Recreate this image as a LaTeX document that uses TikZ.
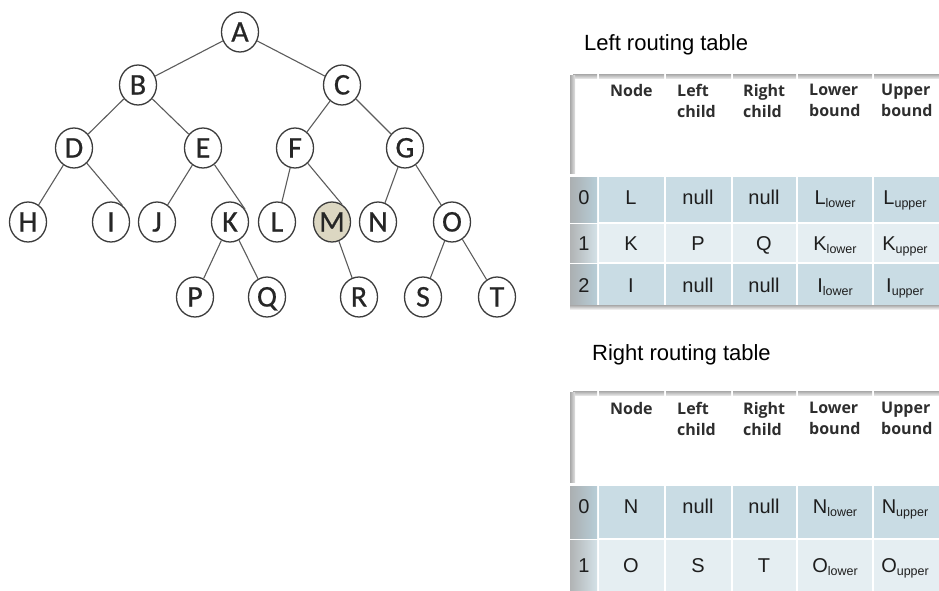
\documentclass[tikz,border=0pt]{standalone}
\usepackage{fontspec}
\setmainfont{Liberation Sans}
\newfontfamily\treefont{Carlito}[FakeBold=0.6]
\newfontfamily\headfont{Open Sans}
\usetikzlibrary{shapes.geometric}

\definecolor{rowdark}{HTML}{C9DCE4}
\definecolor{rowlight}{HTML}{E5EEF2}
\definecolor{idxdark}{HTML}{B7CDD7}
\definecolor{idxlight}{HTML}{D3E1E7}
\definecolor{edgegray}{HTML}{5C5C5C}
\definecolor{ringgray}{HTML}{3C3C3C}
\definecolor{mfill}{HTML}{DCD7C2}
\definecolor{railgray}{HTML}{A8A8A8}
\definecolor{railpale}{HTML}{E2E2E2}
\definecolor{headtext}{HTML}{2E2E2E}
\definecolor{celltext}{HTML}{1E1E1E}

% bound value: base letter with a small lowered label
\newcommand{\bnd}[2]{#1\raisebox{-3.5pt}{\fontsize{12.5}{12.5}\selectfont #2}}

% #1 header top, #2 header bottom
\newcommand{\tableframe}[2]{%
  \foreach \xa/\xb in {572/598,598/665,665/732,732/797,797/873,873/945}{
    \shade[top color=railgray, bottom color=railpale]
      (\xa+1,#1-1) rectangle (\xb-1,#1+3);
  }
  \shade[left color=railgray, right color=railpale]
    (570,#1) rectangle (575,#2);
}
% #1 top, #2 bottom, #3 cell fill, #4 index fill
\newcommand{\tablerow}[4]{%
  \shade[left color=railgray!80!#4, right color=#4]
    (570,#1) rectangle (597,#2);
  \foreach \xa/\xb in {598/665,665/732,732/797,797/873,873/945}{
    \fill[#3] (\xa+1,#1) rectangle (\xb-1,#2);
  }
}

\begin{document}
\begin{tikzpicture}[x=1pt,y=-1pt,
  vertex/.style={ellipse, draw=ringgray, line width=1.3pt, fill=white,
    minimum width=37pt, minimum height=40pt, inner sep=0pt,
    text height=19pt, text depth=0pt, text=black!85,
    font=\treefont\fontsize{30}{30}\selectfont},
  marked/.style={vertex, fill=mfill},
  branch/.style={draw=edgegray, line width=1.1pt},
  title/.style={anchor=base west, inner sep=0pt,
    font=\fontsize{22}{22}\selectfont},
  headcell/.style={anchor=north west, inner sep=0pt, align=left,
    text=headtext, font=\headfont\bfseries\fontsize{16}{21}\selectfont},
  cell/.style={anchor=base, inner sep=0pt, text=celltext,
    font=\fontsize{20}{20}\selectfont}]

\useasboundingbox (0,0) rectangle (939,590);

% ---------------- tree ----------------
\node[vertex] (A) at (240,32) {A};
\node[vertex] (B) at (138,85) {B};
\node[vertex] (C) at (342,85) {C};
\node[vertex] (D) at (74,148) {D};
\node[vertex] (E) at (203,148) {E};
\node[vertex] (F) at (295,148) {F};
\node[vertex] (G) at (405,148) {G};
\node[vertex] (H) at (28,222) {H};
\node[vertex] (I) at (111,222) {I};
\node[vertex] (J) at (157,222) {J};
\node[vertex] (K) at (230,222) {K};
\node[vertex] (L) at (277,222) {L};
\node[marked] (M) at (332,222) {M};
\node[vertex] (N) at (378,222) {N};
\node[vertex] (O) at (452,222) {O};
\node[vertex] (P) at (195,297) {P};
\node[vertex] (Q) at (267,297) {Q};
\node[vertex] (R) at (359,297) {R};
\node[vertex] (S) at (423,297) {S};
\node[vertex] (T) at (497,297) {T};

\draw[branch] (A) -- (B);
\draw[branch] (A) -- (C);
\draw[branch] (B) -- (D);
\draw[branch] (B) -- (E);
\draw[branch] (C) -- (F);
\draw[branch] (C) -- (G);
\draw[branch] (D) -- (H);
\draw[branch] (D) -- (I.55);
\draw[branch] (E) -- (J);
\draw[branch] (E) -- (K.40);
\draw[branch] (F) -- (L);
\draw[branch] (F) -- (M.60);
\draw[branch] (G) -- (N);
\draw[branch] (G) -- (O);
\draw[branch] (K) -- (P);
\draw[branch] (K) -- (Q);
\draw[branch] (M) -- (R);
\draw[branch] (O) -- (S);
\draw[branch] (O) -- (T);

% ---------------- routing tables ----------------
% left routing table
\node[title] (lefttitle) at (584,50) {Left routing table};
\tableframe{75}{173}
\tablerow{177}{222}{rowdark}{idxdark}
\tablerow{224}{262}{rowlight}{idxlight}
\tablerow{264}{305}{rowdark}{idxdark}
\shade[top color=railgray, bottom color=white] (570,305) rectangle (945,310);

\node[headcell] (lh1) at (610,84) {Node};
\node[headcell] (lh2) at (677,84) {Left\\child};
\node[headcell] (lh3) at (743,84) {Right\\child};
\node[headcell] (lh4) at (809,84) {Lower\\bound};
\node[headcell] (lh5) at (881,84) {Upper\\bound};

\node[cell] (l00) at (584,204) {0};
\node[cell] (l01) at (631,204) {L};
\node[cell] (l02) at (698,204) {null};
\node[cell] (l03) at (764,204) {null};
\node[cell] (l04) at (835,204) {\bnd{L}{lower}};
\node[cell] (l05) at (905,204) {\bnd{L}{upper}};

\node[cell] (l10) at (584,250) {1};
\node[cell] (l11) at (631,250) {K};
\node[cell] (l12) at (698,250) {P};
\node[cell] (l13) at (764,250) {Q};
\node[cell] (l14) at (835,250) {\bnd{K}{lower}};
\node[cell] (l15) at (905,250) {\bnd{K}{upper}};

\node[cell] (l20) at (584,292) {2};
\node[cell] (l21) at (631,292) {I};
\node[cell] (l22) at (698,292) {null};
\node[cell] (l23) at (764,292) {null};
\node[cell] (l24) at (835,292) {\bnd{I}{lower}};
\node[cell] (l25) at (905,292) {\bnd{I}{upper}};

% right routing table
\node[title] (righttitle) at (592,360) {Right routing table};
\tableframe{392}{482}
\tablerow{486}{538}{rowdark}{idxdark}
\tablerow{540}{592}{rowlight}{idxlight}

\node[headcell] (rh1) at (610,402) {Node};
\node[headcell] (rh2) at (677,402) {Left\\child};
\node[headcell] (rh3) at (743,402) {Right\\child};
\node[headcell] (rh4) at (809,402) {Lower\\bound};
\node[headcell] (rh5) at (881,402) {Upper\\bound};

\node[cell] (r00) at (584,513) {0};
\node[cell] (r01) at (631,513) {N};
\node[cell] (r02) at (698,513) {null};
\node[cell] (r03) at (764,513) {null};
\node[cell] (r04) at (835,513) {\bnd{N}{lower}};
\node[cell] (r05) at (905,513) {\bnd{N}{upper}};

\node[cell] (r10) at (584,572) {1};
\node[cell] (r11) at (631,572) {O};
\node[cell] (r12) at (698,572) {S};
\node[cell] (r13) at (764,572) {T};
\node[cell] (r14) at (835,572) {\bnd{O}{lower}};
\node[cell] (r15) at (905,572) {\bnd{O}{upper}};
\end{tikzpicture}
\end{document}
